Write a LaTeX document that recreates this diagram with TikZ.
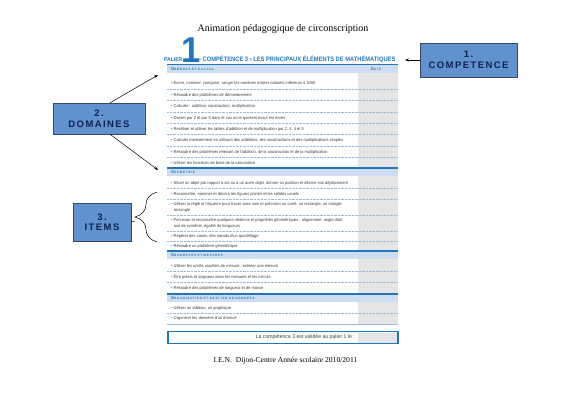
\documentclass[tikz,border=0pt]{standalone}
\usepackage{fontspec}
\setmainfont{Liberation Serif}
\newfontfamily\formfont[FakeStretch=0.95]{Liberation Sans}
\newfontfamily\headfont[FakeStretch=0.9]{Liberation Sans}
\newfontfamily\bandfont[FakeStretch=0.9,LetterSpace=25]{Liberation Sans}
\newfontfamily\calloutfont[LetterSpace=15]{Liberation Sans}
\usetikzlibrary{decorations.pathreplacing,arrows.meta}

\definecolor{formblue}{RGB}{35,118,188}
\definecolor{bandblue}{RGB}{206,222,240}
\definecolor{dategrey}{RGB}{229,229,232}
\definecolor{dotblue}{RGB}{150,185,222}
\definecolor{itemgrey}{RGB}{60,60,65}
\definecolor{calloutfill}{RGB}{98,146,206}
\definecolor{calloutedge}{RGB}{55,72,98}
\definecolor{callouttext}{RGB}{14,34,82}

\newcommand{\puce}{\textcolor{formblue}{\textbullet}\ }
\newcommand{\rubrique}[2]{{\fontsize{4.2}{5}\selectfont #1}{\fontsize{3.2}{5}\selectfont #2}}

\tikzstyle{callout} = [draw=calloutedge, fill=calloutfill, text=callouttext, align=center,
    font=\calloutfont\bfseries\fontsize{9.5}{10.5}\selectfont]
\tikzstyle{item} = [anchor=west, inner sep=0pt, align=left, text=itemgrey,
    font=\formfont\fontsize{4.2}{6}\selectfont]
\tikzstyle{rubric} = [anchor=west, inner sep=0pt, text=formblue, font=\bandfont\bfseries]
\tikzstyle{rule} = [formblue, line width=1.4pt]
\tikzstyle{sep} = [dotblue, densely dotted, line width=0.4pt]
\tikzstyle{fleche} = [-{Stealth[length=4pt,width=3pt]}, line width=0.5pt]

\begin{document}
\begin{tikzpicture}[x=1pt, y=-1pt]
\useasboundingbox (0,0) rectangle (566,400);

\node[font=\fontsize{10}{12}\selectfont] (titre) at (283,29) {Animation pédagogique de circonscription};

\node[anchor=base west, inner sep=0pt, text=formblue, font=\headfont\bfseries\fontsize{5.6}{6}\selectfont]
    (palier) at (164,61.5) {PALIER};
\node[anchor=base west, inner sep=0pt, text=formblue, font=\formfont\bfseries\fontsize{36}{36}\selectfont]
    (un) at (181.5,62.5) {1};
\node[anchor=base west, inner sep=0pt, text=formblue, font=\headfont\bfseries\fontsize{6.4}{7}\selectfont]
    (entete) at (199,61.5) {› COMPÉTENCE 3 › LES PRINCIPAUX ÉLÉMENTS DE MATHÉMATIQUES};

\fill[dategrey] (358,72) rectangle (398,324);

\fill[bandblue] (167,65) rectangle (398,72.5);
\draw[rule] (167,64.3) -- (398,64.3);
\node[rubric] (nombres) at (171,68.8) {\rubrique{N}{OMBRES ET CALCUL}};
\node[rubric] (date) at (371,68.8) {\rubrique{D}{ATE}};

\fill[bandblue] (167,168.5) rectangle (398,176);
\draw[rule] (167,167.8) -- (398,167.8);
\node[rubric] (geometrie) at (171,172.3) {\rubrique{G}{ÉOMÉTRIE}};

\fill[bandblue] (167,251.5) rectangle (398,259);
\draw[rule] (167,250.8) -- (398,250.8);
\node[rubric] (grandeurs) at (171,255.3) {\rubrique{G}{RANDEURS ET MESURES}};

\fill[bandblue] (167,294.5) rectangle (398,302);
\draw[rule] (167,293.8) -- (398,293.8);
\node[rubric] (organisation) at (171,298.3) {\rubrique{O}{RGANISATION ET GESTION DE DONNÉES}};

\foreach \y in {89,100.5,112,123.5,134.5,146,157.5,188.5,199.5,215,231,241,271.5,282.5,313}
    \draw[sep] (167,\y) -- (398,\y);
\draw[dotblue, line width=0.5pt] (167,324) -- (398,324);

\node[item] (n1) at (171,83) {\puce Écrire, nommer, comparer, ranger les nombres entiers naturels inférieurs à 1000};
\node[item] (n2) at (171,95) {\puce Résoudre des problèmes de dénombrement};
\node[item] (n3) at (171,106) {\puce Calculer : addition, soustraction, multiplication};
\node[item] (n4) at (171,118) {\puce Diviser par 2 et par 5 dans le cas où le quotient exact est entier};
\node[item] (n5) at (171,129) {\puce Restituer et utiliser les tables d'addition et de multiplication par 2, 3, 4 et 5};
\node[item] (n6) at (171,140) {\puce Calculer mentalement en utilisant des additions, des soustractions et des multiplications simples};
\node[item] (n7) at (171,152) {\puce Résoudre des problèmes relevant de l'addition, de la soustraction et de la multiplication};
\node[item] (n8) at (171,163) {\puce Utiliser les fonctions de base de la calculatrice};

\node[item] (g1) at (171,183) {\puce Situer un objet par rapport à soi ou à un autre objet, donner sa position et décrire son déplacement};
\node[item] (g2) at (171,194) {\puce Reconnaître, nommer et décrire les figures planes et les solides usuels};
\node[item] (g3) at (171,207) {\puce Utiliser la règle et l'équerre pour tracer avec soin et précision un carré, un rectangle, un triangle\\\hspace*{2.6pt}rectangle};
\node[item] (g4) at (171,223) {\puce Percevoir et reconnaître quelques relations et propriétés géométriques : alignement, angle droit,\\\hspace*{2.6pt}axe de symétrie, égalité de longueurs};
\node[item] (g5) at (171,236) {\puce Repérer des cases, des nœuds d'un quadrillage};
\node[item] (g6) at (171,246) {\puce Résoudre un problème géométrique};

\node[item] (m1) at (171,266) {\puce Utiliser les unités usuelles de mesure ; estimer une mesure};
\node[item] (m2) at (171,277) {\puce Être précis et soigneux dans les mesures et les calculs};
\node[item] (m3) at (171,288) {\puce Résoudre des problèmes de longueur et de masse};

\node[item] (o1) at (171,308) {\puce Utiliser un tableau, un graphique};
\node[item] (o2) at (171,318) {\puce Organiser les données d'un énoncé};

\fill[dategrey] (358,332.5) rectangle (396.5,342.5);
\node[draw=formblue, line width=1.3pt, minimum width=230pt, minimum height=12pt, inner sep=0pt]
    (validation) at (283,337.5) {};
\node[item, anchor=east, font=\formfont\fontsize{5.4}{6}\selectfont] (valide) at (355,337.5)
    {La compétence 3 est validée au palier 1 le :};

\node[font=\fontsize{7.6}{9}\selectfont] (pied) at (285.5,361) {I.E.N.~~Dijon-Centre Année scolaire 2010/2011};

\node[callout, minimum width=97pt, minimum height=34pt] (competence) at (468.5,60) {1.\\COMPETENCE};
\node[callout, minimum width=92pt, minimum height=31pt] (domaines) at (99,118.5) {2.\\DOMAINES};
\node[callout, minimum width=58pt, minimum height=38pt] (items) at (102,222) {3.\\ITEMS};

\coordinate (pentete) at (405,60);
\coordinate (pnombres) at (158,75);
\coordinate (pgeometrie) at (158,170);
\coordinate (haut) at (157,192);
\coordinate (bas) at (157,242);
\coordinate (pointe) at (135,221);

\draw[fleche] (competence.west) -- (pentete);
\draw[fleche] ([xshift=11pt]domaines.north) -- (pnombres);
\draw[fleche] ([xshift=11pt]domaines.south) -- (pgeometrie);
\draw[line width=0.5pt, decorate, decoration={brace, amplitude=22pt}] (bas) -- (haut);
\draw[line width=0.5pt] (items.east) -- (pointe);
\end{tikzpicture}
\end{document}
